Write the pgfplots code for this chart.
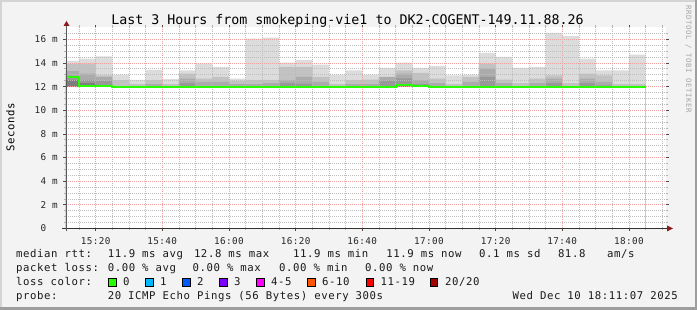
\documentclass[border=0pt]{standalone}
\usepackage{pgfplots}
\pgfplotsset{compat=1.18}
\usepackage{pgfplotstable}
\usepackage{fontspec}
\setmainfont{DejaVu Sans}
\newfontfamily\ttlfont{DejaVu Sans Mono}
\newfontfamily\lgdfont[LetterSpace=5.4]{DejaVu Sans Mono}
\newfontfamily\tckfont[LetterSpace=4.1]{DejaVu Sans Mono}
\newfontfamily\wmfont[LetterSpace=8]{DejaVu Sans Mono}
\newcommand\TT{\ttlfont\fontsize{13.3}{14}\selectfont}
\newcommand\LG{\lgdfont\fontsize{10.67}{12}\selectfont}
\newcommand\TK{\tckfont\fontsize{9.33}{10}\selectfont}
\newcommand\WM{\wmfont\fontsize{7.33}{8}\selectfont}

\definecolor{bgc}{HTML}{F3F3F3}
\definecolor{cL}{HTML}{DCDCDC}
\definecolor{cML}{HTML}{C2C2C2}
\definecolor{cM}{HTML}{ABABAB}
\definecolor{cD}{HTML}{989898}
\definecolor{cDD}{HTML}{7E7E7E}
\definecolor{cMed}{HTML}{26FF00}
\definecolor{l0}{HTML}{26FF00}
\definecolor{l1}{HTML}{00B8FF}
\definecolor{l2}{HTML}{0059FF}
\definecolor{l3}{HTML}{7E00FF}
\definecolor{l4}{HTML}{FF00FF}
\definecolor{l6}{HTML}{FF5500}
\definecolor{l11}{HTML}{FF0000}
\definecolor{l20}{HTML}{A10000}
\definecolor{arr}{HTML}{8B1A1A}
\definecolor{gmaj}{HTML}{F0A0A0}
\definecolor{gmin}{HTML}{BDBDBD}

\pgfplotstableread{
x T c b a e med m
10 14.17 13.90 13.30 12.90 12.55 12.80 11.95
15 14.37 13.94 13.10 12.54 12.30 12.03 11.95
20 14.56 12.96 12.82 12.48 11.95 12.03 11.95
25 13.02 12.54 11.95 11.95 11.95 11.95 11.95
30 12.57 12.20 11.95 11.95 11.95 11.95 11.95
35 13.42 12.54 12.20 11.95 11.95 11.95 11.95
40 12.64 12.20 11.95 11.95 11.95 11.95 11.95
45 13.38 13.10 12.68 12.30 11.95 11.95 11.95
50 13.94 12.68 12.40 11.95 11.95 11.95 11.95
55 13.66 12.82 12.40 11.95 11.95 11.95 11.95
60 12.68 12.48 12.20 11.95 11.95 11.95 11.95
65 16.06 12.54 12.20 11.95 11.95 11.95 11.95
70 16.14 12.54 12.30 11.95 11.95 11.95 11.95
75 14.03 13.66 12.54 12.30 11.95 11.95 11.95
80 14.23 13.66 12.82 12.26 11.95 11.95 11.95
85 13.86 12.82 12.40 11.95 11.95 11.95 11.95
90 13.02 12.20 11.95 11.95 11.95 11.95 11.95
95 13.38 12.54 12.20 11.95 11.95 11.95 11.95
100 13.02 12.59 12.20 11.95 11.95 11.95 11.95
105 13.58 12.82 12.82 12.50 11.95 11.95 11.95
110 14.03 13.38 13.10 12.70 12.20 12.13 11.95
115 13.58 13.16 12.54 12.20 11.95 12.07 11.95
120 13.75 12.68 12.30 11.95 11.95 11.95 11.95
125 12.96 12.20 11.95 11.95 11.95 11.95 11.95
130 13.02 12.82 12.40 11.95 11.95 11.95 11.95
135 14.85 13.94 13.52 12.82 11.95 11.95 11.95
140 14.51 12.59 12.30 11.95 11.95 11.95 11.95
145 13.58 12.30 11.95 11.95 11.95 11.95 11.95
150 13.66 12.68 12.30 11.95 11.95 11.95 11.95
155 16.54 12.96 12.68 12.30 11.95 11.95 11.95
160 16.26 12.30 11.95 11.95 11.95 11.95 11.95
165 14.37 13.10 12.68 12.30 11.95 11.95 11.95
170 13.38 12.96 12.40 12.10 11.95 11.95 11.95
175 13.38 12.20 11.95 11.95 11.95 11.95 11.95
180 14.70 12.20 11.95 11.95 11.95 11.95 11.95
185 14.70 12.20 11.95 11.95 11.95 11.95 11.95
}\data

\pgfplotsset{plotframe/.style={
  at={(66pt,81.5pt)}, anchor=south west,
  scale only axis, width=600pt, height=201pt,
  xmin=11.1167, xmax=191.1167, ymin=0, ymax=17}}

\begin{document}
\begin{tikzpicture}
\path[use as bounding box] (0pt,0pt) rectangle (697pt,310pt);
\fill[bgc] (0pt,0pt) rectangle (697pt,310pt);
\fill[black!17] (0pt,0pt) rectangle (2pt,310pt);
\fill[black!17] (0pt,308pt) rectangle (697pt,310pt);
\fill[black!38] (0pt,0pt) rectangle (697pt,2.5pt);
\fill[black!38] (694.5pt,0pt) rectangle (697pt,310pt);

\begin{axis}[
  plotframe,
  axis on top,
  axis line style={draw=none},
  axis background/.style={fill=white},
  xtick={20,40,...,180},
  xticklabels={15:20,15:40,16:00,16:20,16:40,17:00,17:20,17:40,18:00},
  minor xtick={15,25,30,35,45,50,55,65,70,75,85,90,95,105,110,115,125,130,135,145,150,155,165,170,175,185,190},
  ytick={0,2,...,16},
  yticklabels={0\hphantom{\ m},2 m,4 m,6 m,8 m,10 m,12 m,14 m,16 m},
  minor ytick={0.5,1,1.5,2.5,3,3.5,4.5,5,5.5,6.5,7,7.5,8.5,9,9.5,10.5,11,11.5,12.5,13,13.5,14.5,15,15.5,16.5},
  grid=both,
  major grid style={line width=0.8pt, dash pattern=on 1pt off 1pt, color=gmaj},
  minor grid style={line width=0.8pt, dash pattern=on 1pt off 1pt, color=gmin},
  tick align=outside,
  major tick length=2.5pt, minor tick length=2pt,
  every major tick/.append style={black!70, line width=0.8pt},
  every minor tick/.append style={black!30, line width=0.8pt},
  xticklabel style={font=\TK, inner sep=0pt, anchor=north, text=black!85},
  xticklabel shift=6.2pt,
  yticklabel style={font=\TK, inner sep=0pt, anchor=east, text=black!85},
  yticklabel shift=5.5pt,
]
\addplot[const plot, fill=cL, draw=none] table[x=x,y=T]{\data} \closedcycle;
\addplot[const plot, fill=cML, draw=none] table[x=x,y=c]{\data} \closedcycle;
\addplot[const plot, fill=cM, draw=none] table[x=x,y=b]{\data} \closedcycle;
\addplot[const plot, fill=cD, draw=none] table[x=x,y=a]{\data} \closedcycle;
\addplot[const plot, fill=cDD, draw=none] table[x=x,y=e]{\data} \closedcycle;
\addplot[const plot, fill=white, draw=none] table[x=x,y=m]{\data} \closedcycle;
\end{axis}

\begin{axis}[plotframe, hide axis]
\addplot[const plot, draw=cMed, line width=2pt] table[x=x,y=med]{\data};
\end{axis}

% axis lines with arrows
\draw[line width=1pt, black!80] (62pt,81.5pt) -- (668pt,81.5pt);
\fill[arr] (667pt,78.5pt) -- (673pt,81.5pt) -- (667pt,84.5pt) -- cycle;
\draw[line width=1pt, black!65] (66.5pt,78.5pt) -- (66.5pt,284pt);
\fill[arr] (63.5pt,284pt) -- (66.5pt,289pt) -- (69.5pt,284pt) -- cycle;

% title and labels
\node[anchor=base, inner sep=0pt, font=\TT] at (347.5pt,285.7pt) {Last 3 Hours from smokeping-vie1 to DK2-COGENT-149.11.88.26};
\node[rotate=90, inner sep=0pt, font=\LG] at (10.5pt,182.5pt) {Seconds};
\node[rotate=-90, inner sep=0pt, font=\WM, text=black!35] at (688.5pt,251pt) {RRDTOOL / TOBI OETIKER};

% legend rows
\begin{scope}[every node/.style={anchor=base west, inner sep=0pt, font=\LG, text=black!90}]
\node at (16pt,52.7pt) {median rtt:};
\node at (107.6pt,52.7pt) {11.9 ms avg};
\node at (193.8pt,52.7pt) {12.8 ms max};
\node at (292.9pt,52.7pt) {11.9 ms min};
\node at (386.2pt,52.7pt) {11.9 ms now};
\node at (479pt,52.7pt) {0.1 ms sd};
\node at (557.8pt,52.7pt) {81.8};
\node at (607pt,52.7pt) {am/s};

\node at (16pt,38.5pt) {packet loss:};
\node at (107.6pt,38.5pt) {0.00 \% avg};
\node at (192.4pt,38.5pt) {0.00 \% max};
\node at (279pt,38.5pt) {0.00 \% min};
\node at (364.9pt,38.5pt) {0.00 \% now};

\node at (16pt,24.4pt) {loss color:};
\node at (123pt,24.4pt) {0};
\node at (160pt,24.4pt) {1};
\node at (197pt,24.4pt) {2};
\node at (234pt,24.4pt) {3};
\node at (271pt,24.4pt) {4-5};
\node at (322pt,24.4pt) {6-10};
\node at (380.4pt,24.4pt) {11-19};
\node at (444.9pt,24.4pt) {20/20};

\node at (16pt,10.3pt) {probe:};
\node at (107.6pt,10.3pt) {20 ICMP Echo Pings (56 Bytes) every 300s};
\node at (512.4pt,10.3pt) {Wed Dec 10 18:11:07 2025};
\end{scope}

\begin{scope}[line width=0.7pt]
\filldraw[fill=l0, draw=black] (108.5pt,24pt) rectangle (116pt,31.5pt);
\filldraw[fill=l1, draw=black] (145.5pt,24pt) rectangle (153pt,31.5pt);
\filldraw[fill=l2, draw=black] (182.5pt,24pt) rectangle (190pt,31.5pt);
\filldraw[fill=l3, draw=black] (219.5pt,24pt) rectangle (227pt,31.5pt);
\filldraw[fill=l4, draw=black] (256.5pt,24pt) rectangle (264pt,31.5pt);
\filldraw[fill=l6, draw=black] (307.8pt,24pt) rectangle (315.3pt,31.5pt);
\filldraw[fill=l11, draw=black] (366pt,24pt) rectangle (373.5pt,31.5pt);
\filldraw[fill=l20, draw=black] (430.3pt,24pt) rectangle (437.8pt,31.5pt);
\end{scope}
\end{tikzpicture}
\end{document}
